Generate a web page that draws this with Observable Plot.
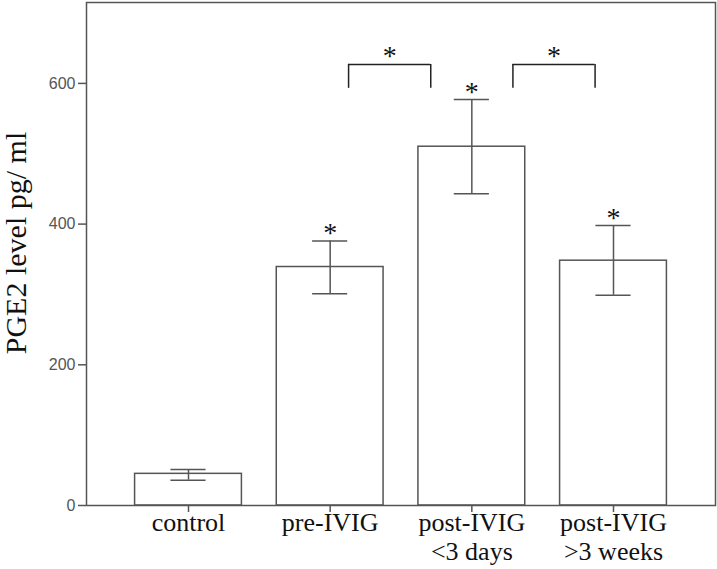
<!DOCTYPE html>
<html>
<head>
<meta charset="utf-8">
<script src="https://cdn.jsdelivr.net/npm/d3@7"></script>
<script src="https://cdn.jsdelivr.net/npm/@observablehq/plot@0.6"></script>
<style>
  body { margin: 0; background: #fff; }
  #chart svg { display: block; }
</style>
</head>
<body>
<div id="chart"></div>
<script>
// Data
const categories = ["control", "pre-IVIG", "post-IVIG\n<3 days", "post-IVIG\n>3 weeks"];
const means = [45, 339, 510, 348];
const upper = [51, 376, 577, 398];
const lower = [36, 301, 443, 299];
const significant = [false, true, true, true];
const yTicks = [0, 200, 400, 600];
// Comparison brackets (between bars 2-3 and 3-4), in category-position units
const bracketStart = [2.13, 3.29];
const bracketEnd = [2.71, 3.87];
const bracketTop = 627;
const bracketLeg = 593;
const yTitle = "PGE2 level pg/ ml";

const data = categories.map((c, k) => ({
  pos: k + 1, label: c, mean: means[k], hi: upper[k], lo: lower[k], sig: significant[k]
}));
const brackets = bracketStart.map((s, k) => ({x1: s, x2: bracketEnd[k], top: bracketTop, leg: bracketLeg}));

const halfBar = 0.377;
const halfCap = 0.124;
const lineColor = "#555";

const chart = Plot.plot({
  width: 717,
  height: 569,
  marginLeft: 86,
  marginRight: 2,
  marginTop: 2,
  marginBottom: 64,
  x: {type: "linear", domain: [0.28, 4.72]},
  y: {domain: [0, 715], label: null},
  style: {background: "#fff", overflow: "visible"},
  marks: [
    Plot.rectY(data, {x1: d => d.pos - halfBar, x2: d => d.pos + halfBar, y1: 0, y2: "mean",
      fill: "#fff", stroke: lineColor, strokeWidth: 1.5}),
    Plot.ruleX(data, {x: "pos", y1: "lo", y2: "hi", stroke: lineColor, strokeWidth: 1.5}),
    Plot.ruleY(data, {y: "hi", x1: d => d.pos - halfCap, x2: d => d.pos + halfCap, stroke: lineColor, strokeWidth: 1.5}),
    Plot.ruleY(data, {y: "lo", x1: d => d.pos - halfCap, x2: d => d.pos + halfCap, stroke: lineColor, strokeWidth: 1.5}),
    Plot.text(data.filter(d => d.sig), {x: "pos", y: "hi", text: () => "*", lineAnchor: "bottom",
      dy: 1, fontSize: 28, fontFamily: "Liberation Serif", fill: "#111"}),
    // brackets
    Plot.ruleY(brackets, {y: "top", x1: "x1", x2: "x2", stroke: "#222", strokeWidth: 1.5}),
    Plot.ruleX(brackets, {x: "x1", y1: "leg", y2: "top", stroke: "#222", strokeWidth: 1.5}),
    Plot.ruleX(brackets, {x: "x2", y1: "leg", y2: "top", stroke: "#222", strokeWidth: 1.5}),
    Plot.text(brackets, {x: d => (d.x1 + d.x2) / 2, y: "top", text: () => "*", lineAnchor: "bottom",
      dy: 1, fontSize: 28, fontFamily: "Liberation Serif", fill: "#111"}),
    Plot.frame({stroke: lineColor, strokeWidth: 1.5}),
    Plot.axisY({ticks: yTicks, tickSize: 8, tickPadding: 3, fontSize: 16, fontFamily: "Liberation Sans",
      fill: "#555", stroke: lineColor, strokeWidth: 1.5, label: null}),
    Plot.axisX({ticks: data.map(d => d.pos), tickFormat: p => categories[p - 1], tickSize: 7, tickPadding: -2,
      fontSize: 26, fontFamily: "Liberation Serif", fill: "#111", stroke: lineColor, strokeWidth: 1.5,
      lineHeight: 1.12, label: null}),
    Plot.text([yTitle], {text: d => d, frameAnchor: "left", textAnchor: "middle", lineAnchor: "middle",
      rotate: -90, dx: -70, dy: -11,
      fontSize: 30, fontFamily: "Liberation Serif", fill: "#111"})
  ]
});
document.getElementById("chart").appendChild(chart);
</script>
</body>
</html>
